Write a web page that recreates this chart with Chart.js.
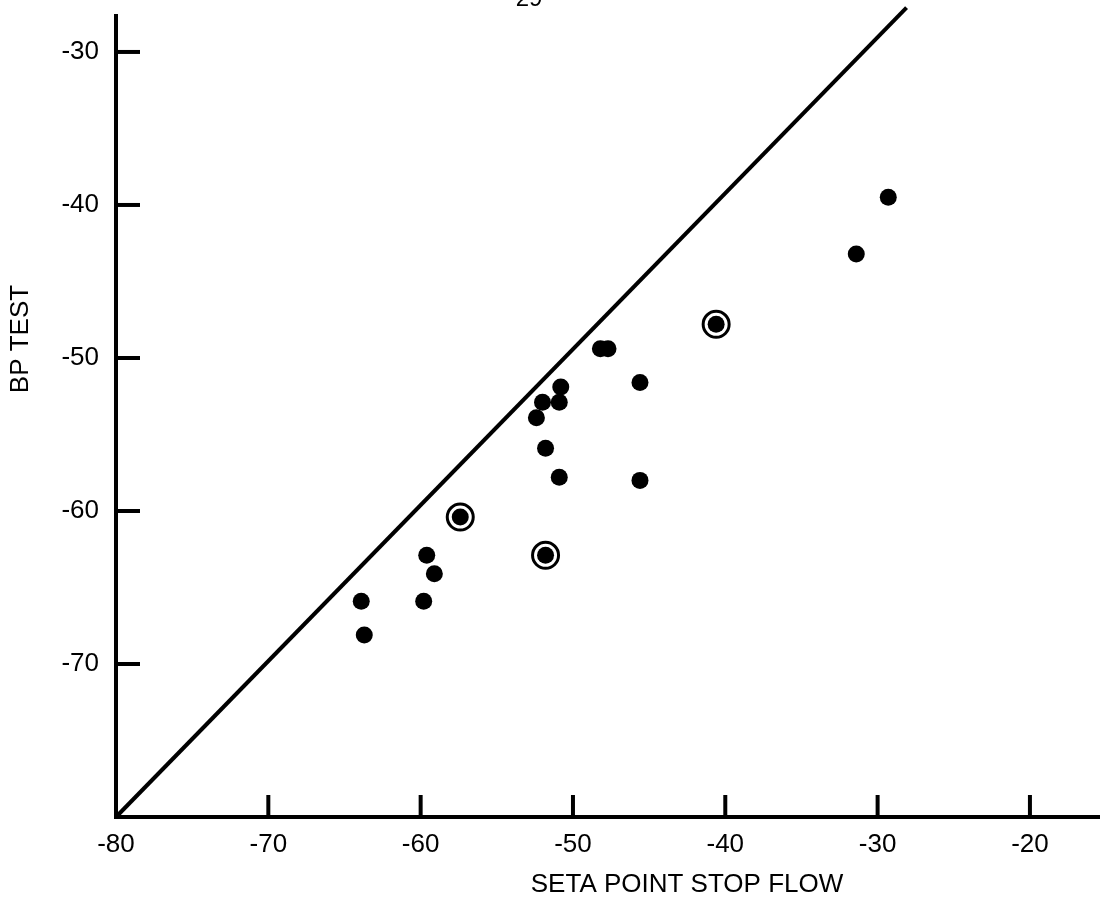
<!DOCTYPE html>
<html>
<head>
<meta charset="utf-8">
<script src="https://cdn.jsdelivr.net/npm/chart.js@4.4.1/dist/chart.umd.min.js"></script>
<style>
    html, body { margin: 0; padding: 0; background: #fff; }
    #wrap { width: 1100px; height: 905px; }
</style>
</head>
<body>
<div id="wrap"><canvas id="flowChart" width="1100" height="905"></canvas></div>
<script>
// stop flow (x) vs BP test (y), all readings
const stopFlow = [-29.3, -31.4, -40.6, -48.2, -47.7, -45.6, -50.8, -50.9, -52.0, -52.4,
                  -51.8, -50.9, -45.6, -57.4, -51.8, -59.6, -59.1, -63.9, -59.8, -63.7];
const bpTest   = [-39.5, -43.2, -47.8, -49.4, -49.4, -51.6, -51.9, -52.9, -52.9, -53.9,
                  -55.9, -57.8, -58.0, -60.4, -62.9, -62.9, -64.1, -65.9, -65.9, -68.1];

// readings marked with a ring
const ringFlow = [-40.6, -57.4, -51.8];
const ringBp   = [-47.8, -60.4, -62.9];

// reference line
const lineFlow = [-80, -28.1];
const lineBp   = [-80, -27.1];

const xTicks = [-80, -70, -60, -50, -40, -30, -20];
const yTicks = [-70, -60, -50, -40, -30];

const FONT = '"Liberation Sans", Arial, Helvetica, sans-serif';

const toPoints = (xs, ys) => xs.map((x, i) => ({ x, y: ys[i] }));

/* inward tick marks + axis titles */
const scanAxes = {
    id: 'scanAxes',
    afterDraw(chart) {
        const ctx = chart.ctx;
        const xs = chart.scales.x;
        const ys = chart.scales.y;
        const area = chart.chartArea;

        ctx.save();
        ctx.strokeStyle = '#000';
        ctx.lineWidth = 4;
        ctx.lineCap = 'butt';

        xTicks.forEach(v => {
            if (v === xs.min) return;
            const px = xs.getPixelForValue(v);
            ctx.beginPath();
            ctx.moveTo(px, area.bottom);
            ctx.lineTo(px, area.bottom - 22);
            ctx.stroke();
        });

        yTicks.forEach(v => {
            const py = ys.getPixelForValue(v);
            ctx.beginPath();
            ctx.moveTo(area.left, py);
            ctx.lineTo(area.left + 24, py);
            ctx.stroke();
        });

        ctx.fillStyle = '#000';
        ctx.textAlign = 'center';
        ctx.textBaseline = 'middle';

        ctx.font = '26px ' + FONT;
        ctx.fillText('SETA POINT STOP FLOW', 687, 885);

        ctx.save();
        ctx.translate(21, 339);
        ctx.rotate(-Math.PI / 2);
        ctx.font = '26px ' + FONT;
        ctx.fillText('BP TEST', 0, 0);
        ctx.restore();

        ctx.font = '24px ' + FONT;
        ctx.textBaseline = 'alphabetic';
        ctx.fillText('29', 529, 6);

        ctx.restore();
    }
};

new Chart(document.getElementById('flowChart'), {
    type: 'scatter',
    data: {
        datasets: [
            {
                type: 'line',
                data: toPoints(lineFlow, lineBp),
                borderColor: '#000',
                borderWidth: 4,
                pointRadius: 0,
                clip: false
            },
            {
                data: toPoints(ringFlow, ringBp),
                pointRadius: 13,
                pointBorderWidth: 3,
                pointBorderColor: '#000',
                pointBackgroundColor: 'rgba(0,0,0,0)',
                clip: false
            },
            {
                data: toPoints(stopFlow, bpTest),
                pointRadius: 8.5,
                pointBorderWidth: 0,
                pointBackgroundColor: '#000',
                clip: false
            }
        ]
    },
    options: {
        responsive: false,
        animation: false,
        layout: { autoPadding: false, padding: { top: 16, right: 0, bottom: 0, left: 0 } },
        plugins: {
            legend: { display: false },
            tooltip: { enabled: false }
        },
        scales: {
            x: {
                type: 'linear',
                min: -80,
                max: -15.4,
                afterBuildTicks: s => { s.ticks = xTicks.map(v => ({ value: v })); },
                afterFit: s => {
                    s.height = 88;
                    s.paddingLeft = 0;
                    s.paddingRight = 0;
                },
                grid: { display: true, drawOnChartArea: false, drawTicks: false },
                border: { display: true, color: '#000', width: 4 },
                ticks: {
                    color: '#000',
                    padding: 12,
                    font: { family: FONT, size: 26 }
                }
            },
            y: {
                type: 'linear',
                min: -80,
                max: -27.65,
                afterBuildTicks: s => { s.ticks = yTicks.map(v => ({ value: v })); },
                afterFit: s => {
                    s.width = 116;
                    s.paddingTop = 0;
                    s.paddingBottom = 0;
                },
                grid: { display: true, drawOnChartArea: false, drawTicks: false },
                border: { display: true, color: '#000', width: 4 },
                ticks: {
                    color: '#000',
                    padding: 17,
                    font: { family: FONT, size: 26 }
                }
            }
        }
    },
    plugins: [scanAxes]
});
</script>
</body>
</html>
